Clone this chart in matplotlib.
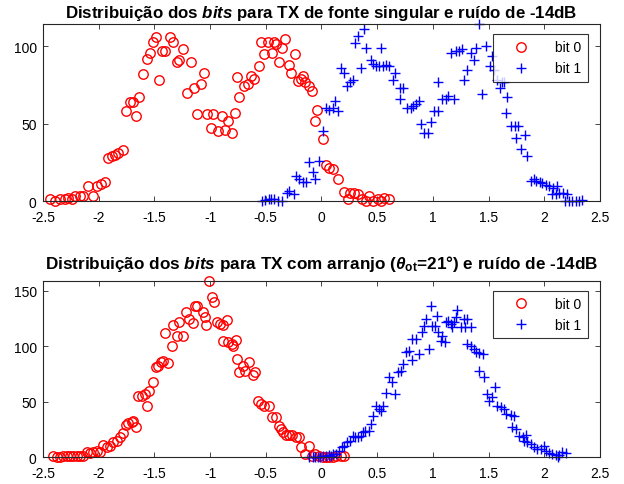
import numpy as np
import matplotlib
matplotlib.use("Agg")
import matplotlib.pyplot as plt

# =========================
# Data
# =========================
# top panel: single source TX, -14dB
top_x0 = [-2.437, -2.392, -2.347, -2.303, -2.273, -2.243, -2.213, -2.168, -2.138, -2.093,
          -2.054, -2.018, -1.982, -1.943, -1.914, -1.884, -1.854, -1.824, -1.785, -1.755,
          -1.719, -1.689, -1.665, -1.635, -1.599, -1.570, -1.540, -1.516, -1.486, -1.456,
          -1.435, -1.405, -1.360, -1.330, -1.300, -1.276, -1.240, -1.210, -1.175, -1.145,
          -1.115, -1.085, -1.055, -1.031, -0.995, -0.971, -0.932, -0.896, -0.866, -0.836,
          -0.806, -0.777, -0.762, -0.738, -0.693, -0.663, -0.633, -0.604, -0.565, -0.544,
          -0.514, -0.484, -0.445, -0.424, -0.409, -0.385, -0.355, -0.325, -0.295, -0.274,
          -0.235, -0.215, -0.185, -0.164, -0.146, -0.116, -0.086, -0.056, -0.044, 0.016,
          0.040, 0.070, 0.106, 0.145, 0.204, 0.234, 0.255, 0.294, 0.324, 0.363,
          0.399, 0.429, 0.465, 0.504, 0.534, 0.564, 0.602]
top_y0 = [1, 0, 1, 1.5, 2, 1, 3, 3, 3.5, 10,
          3, 10, 11, 12, 28, 29, 30, 31, 33, 58,
          64, 64, 55, 67, 82, 92, 96, 103, 106, 78,
          97, 97, 106, 103, 90, 91, 98, 70, 90, 73,
          56, 76, 83, 56, 47, 56, 45, 55, 46, 52,
          44, 57, 80, 67, 74.5, 75.6, 81, 79, 87.5, 102.6,
          95, 102.6, 96, 102.6, 101.5, 90, 99, 105, 88, 82.7,
          95, 77.8, 79, 81, 76.7, 74.5, 71, 52, 59, 40,
          23, 21.6, 21, 14, 6, 1.5, 5.4, 5.4, 4.3, 1,
          0, 3, 0, 1, 0, 2, 1]

top_x1 = [-0.535, -0.505, -0.475, -0.451, -0.424, -0.394, -0.355, -0.313, -0.289, -0.245,
          -0.230, -0.200, -0.170, -0.140, -0.116, -0.080, -0.056, -0.026, 0.016, 0.040,
          0.070, 0.100, 0.124, 0.145, 0.174, 0.204, 0.225, 0.255, 0.279, 0.303,
          0.324, 0.354, 0.384, 0.399, 0.444, 0.459, 0.489, 0.519, 0.534, 0.548,
          0.578, 0.608, 0.638, 0.662, 0.704, 0.734, 0.704, 0.764, 0.803, 0.824,
          0.848, 0.878, 0.893, 0.923, 0.952, 0.980, 1.010, 1.049, 1.049, 1.084,
          1.114, 1.138, 1.189, 1.159, 1.204, 1.234, 1.258, 1.279, 1.309, 1.339,
          1.369, 1.390, 1.414, 1.444, 1.473, 1.509, 1.527, 1.548, 1.578, 1.599,
          1.617, 1.638, 1.668, 1.659, 1.698, 1.737, 1.767, 1.743, 1.827, 1.788,
          1.847, 1.877, 1.907, 1.928, 1.958, 1.982, 2.012, 2.042, 2.078, 2.117,
          2.072, 2.102, 2.132, 2.168, 2.207, 2.186, 2.222, 2.251, 2.281, 2.311, 2.335]
top_y1 = [0, 0.4, 1, 1.5, 1, 0, 0, 5.4, 6.5, 4.3,
          16, 14, 12, 12, 25, 19, 14.5, 26, 45, 60,
          59, 60, 65, 58, 86, 83, 74.5, 77, 78, 102,
          107, 86, 111, 99, 91, 88.5, 87.5, 87.5, 99, 87.5,
          88, 87.5, 78, 83, 73, 73, 66, 60, 60, 61.5,
          62.6, 65, 50, 44, 44, 51, 58, 58, 77, 66,
          66, 68, 66, 96, 97, 97, 98, 78, 85, 96,
          91, 99, 114.5, 69, 100, 87.5, 94, 85, 78, 73,
          77, 77, 67, 57, 48.6, 48.6, 48.6, 41, 42.5, 33.5,
          29, 13, 14, 13, 12.3, 11.4, 10.4, 9.7, 8.6, 9.7,
          4.3, 4.3, 5.4, 5.4, 4.3, 0, 0, 0, 0, 0, 0.4]

# bottom panel: array TX (theta_ot = 21 deg), -14dB
bot_x0 = [-2.407, -2.377, -2.347, -2.318, -2.288, -2.258, -2.228, -2.198, -2.168, -2.138,
          -2.108, -2.078, -2.048, -2.018, -1.988, -1.958, -1.929, -1.899, -1.869, -1.839,
          -1.809, -1.779, -1.755, -1.734, -1.704, -1.689, -1.665, -1.644, -1.614, -1.584,
          -1.564, -1.546, -1.510, -1.486, -1.465, -1.444, -1.420, -1.375, -1.405, -1.345,
          -1.330, -1.300, -1.276, -1.246, -1.216, -1.186, -1.157, -1.136, -1.115, -1.067,
          -1.037, -1.046, -1.007, -0.986, -0.965, -0.935, -0.911, -0.887, -0.851, -0.887,
          -0.836, -0.806, -0.791, -0.768, -0.762, -0.738, -0.708, -0.684, -0.648, -0.619,
          -0.595, -0.574, -0.544, -0.514, -0.469, -0.445, -0.409, -0.385, -0.364, -0.343,
          -0.319, -0.295, -0.265, -0.230, -0.200, -0.185, -0.146, -0.110, -0.086, -0.056,
          -0.026, 0.010, 0.040, 0.070, 0.100, 0.130, 0.174, 0.204]
bot_y0 = [1.5, 0, 0, 0.9, 1.5, 1.5, 1.5, 0.9, 0.9, 1.5,
          5, 4, 5, 6, 4.5, 11, 9, 10, 14, 15,
          18, 22, 29, 31, 32, 33, 27, 55, 55.5, 57,
          46.5, 60, 68, 81, 82.5, 86, 87, 84.6, 112, 100.5,
          119, 109.5, 122, 109.5, 130.5, 124.5, 121, 136.5, 136.5, 130.5,
          119, 126, 159, 144, 140, 122, 120, 119, 124, 105,
          103.5, 102, 100, 106, 88.5, 76.5, 82.5, 78, 85.5, 74,
          77, 51, 48, 46.5, 46.5, 36, 36, 28.5, 25.5, 22.5,
          20, 20, 20, 18, 18, 9, 3, 10.5, 1.5, 3,
          1.5, 0, 0, 0, 0, 1.5, 0.9, 1.5]

bot_x1 = [-0.110, -0.080, -0.056, -0.035, -0.014, 0.010, 0.040, 0.064, 0.085, 0.106,
          0.130, 0.159, 0.183, 0.204, 0.225, 0.255, 0.285, 0.303, 0.324, 0.354,
          0.375, 0.393, 0.423, 0.444, 0.465, 0.489, 0.513, 0.534, 0.554, 0.578,
          0.602, 0.632, 0.662, 0.683, 0.713, 0.728, 0.758, 0.782, 0.812, 0.812,
          0.848, 0.878, 0.902, 0.923, 0.937, 0.961, 0.980, 0.995, 1.019, 1.040,
          1.049, 1.070, 1.084, 1.108, 1.114, 1.138, 1.159, 1.174, 1.189, 1.210,
          1.219, 1.249, 1.279, 1.288, 1.309, 1.339, 1.309, 1.339, 1.369, 1.390,
          1.414, 1.449, 1.414, 1.458, 1.488, 1.503, 1.527, 1.557, 1.578, 1.608,
          1.638, 1.659, 1.698, 1.728, 1.713, 1.743, 1.773, 1.809, 1.838, 1.818,
          1.847, 1.877, 1.907, 1.937, 1.967, 1.997, 2.012, 2.042, 2.072, 2.102,
          2.132, 2.162, 2.192, 2.126]
bot_y1 = [0, 0, 0, 0, 0, 0.9, 1.5, 2, 1.5, 3,
          3, 6, 9, 10.5, 13.5, 15, 19.5, 18, 18, 19.5,
          22.5, 24, 24, 30, 37.5, 46.5, 43.5, 42, 46.5, 58,
          72, 67.5, 57, 76.5, 78, 84, 94.5, 96, 88, 106.5,
          106.5, 93, 112.5, 118.5, 124.5, 97.5, 136.5, 118.5, 118.5, 127.5,
          112.5, 105, 109.5, 103.5, 121.5, 123, 120, 117, 122, 126,
          133, 117, 124.5, 117, 124.5, 117, 102, 100, 97.5, 95,
          94, 93, 78, 72, 57, 51, 54, 63, 46.5, 45,
          43.5, 39, 38, 37.5, 27, 25.5, 19.5, 18, 20, 15,
          13.5, 12, 9, 7.5, 7.5, 10.5, 6, 4, 3, 2,
          2, 4.5, 4, 0]

titles = [r"Distribuição dos $\mathit{bits}$ para TX de fonte singular e ruído de -14dB",
          r"Distribuição dos $\mathit{bits}$ para TX com arranjo ($\mathit{θ}_{\mathrm{ot}}$=21°) e ruído de -14dB"]
legend_labels = ["bit 0", "bit 1"]
xticks = [-2.5, -2, -1.5, -1, -0.5, 0, 0.5, 1, 1.5, 2, 2.5]
yticks_top = [0, 50, 100]
yticks_bot = [0, 50, 100, 150]

# =========================
# Style
# =========================
plt.rcParams["font.family"] = ["Liberation Sans", "DejaVu Sans"]
plt.rcParams["axes.unicode_minus"] = False
plt.rcParams["mathtext.fontset"] = "custom"
plt.rcParams["mathtext.rm"] = "Liberation Sans:bold"
plt.rcParams["mathtext.bf"] = "Liberation Sans:bold"
plt.rcParams["mathtext.it"] = "Liberation Sans:italic:bold"

fig = plt.figure(figsize=(6.24, 4.85), dpi=100)
ax_top = fig.add_axes([0.0689, 0.5835, 0.8926, 0.365])
ax_bot = fig.add_axes([0.0689, 0.055, 0.8926, 0.364])

panels = [
    (ax_top, top_x0, top_y0, top_x1, top_y1, yticks_top, titles[0], 12.2, 5),
    (ax_bot, bot_x0, bot_y0, bot_x1, bot_y1, yticks_bot, titles[1], 12.3, 9.5),
]

for ax, x0, y0, x1, y1, yt, title, tsize, tpad in panels:
    ax.plot(x0, y0, linestyle="none", marker="o", markersize=6.8, markerfacecolor="none",
            markeredgecolor="red", markeredgewidth=1.0, clip_on=False, label=legend_labels[0])
    ax.plot(x1, y1, linestyle="none", marker="+", markersize=6.5, markeredgecolor="blue",
            markeredgewidth=1.0, clip_on=False, label=legend_labels[1])

    ax.set_xlim(-2.5, 2.5)
    ax.set_ylim(0, max(max(y0), max(y1)))
    ax.set_xticks(xticks)
    ax.set_xticklabels([f"{t:g}" for t in xticks])
    ax.set_yticks(yt)
    ax.tick_params(direction="in", length=3.5, width=0.6, top=True, right=True,
                   labelsize=10, colors="#262626", labelcolor="black")
    ax.tick_params(axis="x", pad=6.5)
    ax.tick_params(axis="y", pad=4.5)
    for sp in ax.spines.values():
        sp.set_color("#262626")
        sp.set_linewidth(0.8)

    ax.set_title(title, fontsize=tsize, fontweight="bold", pad=tpad)

    leg = ax.legend(loc="upper right", bbox_to_anchor=(0.978, 0.942), borderaxespad=0,
                    fontsize=10, frameon=True, fancybox=False, edgecolor="black",
                    handlelength=3.0, handletextpad=1.0, borderpad=0.45, labelspacing=0.5)
    leg.get_frame().set_linewidth(0.8)

fig.savefig("out.png", dpi=100)
plt.close(fig)
